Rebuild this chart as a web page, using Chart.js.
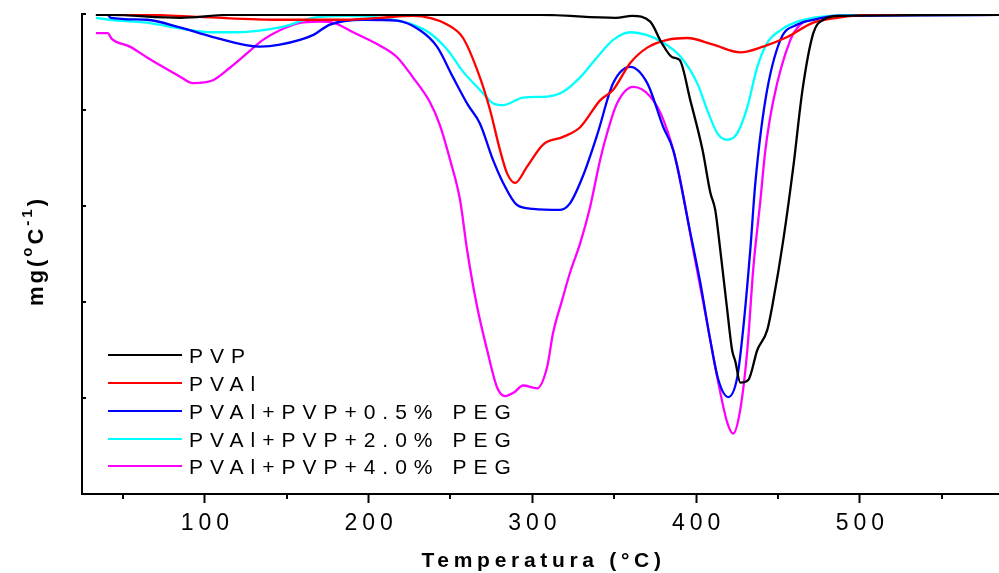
<!DOCTYPE html>
<html>
<head>
<meta charset="utf-8">
<title>DTG</title>
<script src="https://cdn.jsdelivr.net/npm/chart.js@4.4.1/dist/chart.umd.min.js"></script>
<style>
  html, body { margin: 0; padding: 0; background: #fff; }
  #wrap { width: 999px; height: 573px; }
</style>
</head>
<body>
<div id="wrap"><canvas id="dtg" width="999" height="573"></canvas></div>
<script>
// temperatures (°C) and DTG values (arbitrary units, axis has no labels)
const pvpTemp = [33.5, 41, 85, 115, 305, 351, 361, 372, 379, 385.5, 390, 396.5, 404, 408.7, 411.7, 414.8, 419, 422, 424, 427, 432, 437.4, 443.5, 447.2, 453.3, 459.4, 465, 471.6, 477.8, 488, 585];
const pvpVal = [4.99, 4.99, 4.96, 4.99, 4.99, 4.96, 4.98, 4.92, 4.70, 4.55, 4.52, 4.10, 3.58, 3.14, 2.96, 2.54, 1.92, 1.50, 1.38, 1.16, 1.19, 1.50, 1.71, 2.02, 2.65, 3.41, 4.21, 4.80, 4.94, 4.98, 4.99];

const pvalTemp = [33.5, 66, 97, 146, 182.5, 207, 227, 248, 257.7, 268, 274.2, 280.3, 284.6, 289.5, 296.8, 306.6, 318.8, 329.2, 341.4, 349.4, 359.8, 370.2, 382.4, 394.6, 410.5, 427, 441, 455.7, 471.6, 486.3, 506.5, 585];
const pvalVal = [4.99, 4.99, 4.97, 4.94, 4.94, 4.96, 4.98, 4.89, 4.75, 4.34, 4.00, 3.58, 3.34, 3.24, 3.41, 3.64, 3.72, 3.82, 4.10, 4.21, 4.49, 4.65, 4.73, 4.75, 4.68, 4.60, 4.66, 4.76, 4.91, 4.96, 4.99, 4.99];

const peg05Temp = [33.5, 40.7, 42.5, 64.5, 84.7, 105, 133.6, 145.8, 166, 176.4, 196.6, 217.4, 231.4, 241.8, 251.6, 260.8, 268, 276, 282.2, 290.7, 300.5, 317, 323.1, 331.1, 339.6, 349.4, 359.8, 370.2, 380, 386.1, 396.5, 402.6, 408.7, 413.6, 419.7, 425.2, 428.9, 433.1, 436.2, 442.3, 451.5, 461.9, 471.6, 486.3, 585];
const peg05Val = [4.99, 4.99, 4.96, 4.94, 4.86, 4.76, 4.66, 4.68, 4.78, 4.89, 4.94, 4.93, 4.83, 4.66, 4.34, 4.05, 3.86, 3.48, 3.24, 3.01, 2.97, 2.96, 3.03, 3.32, 3.74, 4.28, 4.45, 4.28, 3.82, 3.58, 2.72, 2.20, 1.60, 1.19, 1.01, 1.22, 1.74, 2.54, 3.24, 4.10, 4.73, 4.89, 4.94, 4.98, 4.99];

const peg20Temp = [33.5, 42, 64.5, 84.7, 105, 119.6, 145.8, 166, 186.8, 207, 227, 237.5, 248, 257.7, 268, 276, 282.2, 294.4, 309, 318.8, 329.2, 339.6, 349.4, 359.8, 370.2, 380, 390.3, 400.7, 406.8, 412.9, 419.1, 425.2, 431.3, 437.4, 443.5, 451.5, 461.9, 476, 494, 585];
const peg20Val = [4.96, 4.94, 4.91, 4.85, 4.81, 4.81, 4.86, 4.96, 4.98, 4.96, 4.89, 4.80, 4.63, 4.40, 4.21, 4.07, 4.05, 4.13, 4.14, 4.19, 4.34, 4.55, 4.73, 4.81, 4.78, 4.70, 4.56, 4.28, 4.00, 3.76, 3.69, 3.76, 4.03, 4.45, 4.70, 4.83, 4.92, 4.97, 4.99, 4.99];

const peg40Temp = [33.5, 40.7, 43.2, 54.2, 64.5, 74.3, 84.7, 92.7, 105, 115.3, 125.7, 135.5, 145.8, 156.2, 170.3, 178.2, 190.5, 207, 217.4, 227.1, 237.5, 243.6, 249.8, 255.9, 260.1, 266.3, 272.4, 278.5, 283.4, 289, 294.4, 302.9, 309, 312.7, 318.2, 323.1, 329.2, 335.3, 341.4, 345.7, 351.8, 361.6, 372, 380, 388.5, 398.3, 406.8, 412.9, 419.1, 422.7, 427, 431.3, 435, 439.3, 442.3, 447.2, 457.6, 463.7, 476, 494, 585];
const peg40Val = [4.80, 4.80, 4.74, 4.66, 4.55, 4.45, 4.35, 4.28, 4.31, 4.44, 4.59, 4.73, 4.83, 4.90, 4.92, 4.91, 4.81, 4.67, 4.55, 4.34, 4.08, 3.84, 3.48, 3.06, 2.55, 1.95, 1.50, 1.11, 1.02, 1.06, 1.13, 1.10, 1.32, 1.68, 2.02, 2.31, 2.61, 2.99, 3.48, 3.76, 4.07, 4.24, 4.14, 3.90, 3.42, 2.54, 1.78, 1.22, 0.74, 0.63, 0.88, 1.50, 2.36, 3.06, 3.58, 4.10, 4.73, 4.89, 4.96, 4.99, 4.99];

const seriesNames = ['PVP', 'PVAl', 'PVAl+PVP+0.5% PEG', 'PVAl+PVP+2.0% PEG', 'PVAl+PVP+4.0% PEG'];
const seriesColors = ['#000000', '#ff0000', '#0000ff', '#00ffff', '#ff00ff'];
const xMajor = [100, 200, 300, 400, 500];
const xMinor = [50, 150, 250, 350, 450, 550];
const yTicks = [0, 1, 2, 3, 4, 5];

const temps = [pvpTemp, pvalTemp, peg05Temp, peg20Temp, peg40Temp];
const vals = [pvpVal, pvalVal, peg05Val, peg20Val, peg40Val];

const datasets = seriesNames.map((name, k) => ({
  label: name,
  data: temps[k].map((t, i) => ({ x: t, y: vals[k][i] })),
  borderColor: seriesColors[k],
  borderWidth: 2.3,
  pointRadius: 0,
  fill: false,
  cubicInterpolationMode: 'monotone'
}));

const FONT = '"Liberation Sans", Arial, sans-serif';

// axis labels, titles, minor ticks and the legend box
const decor = {
  id: 'decor',
  afterDraw(chart) {
    const ctx = chart.ctx;
    const xs = chart.scales.x, ys = chart.scales.y;
    const area = chart.chartArea;
    ctx.save();
    ctx.strokeStyle = '#000';
    ctx.lineWidth = 2;
    xMinor.forEach(v => {
      const px = Math.round(xs.getPixelForValue(v));
      ctx.beginPath();
      ctx.moveTo(px, area.bottom);
      ctx.lineTo(px, area.bottom + 5);
      ctx.stroke();
    });
    yTicks.forEach(v => {
      const py = Math.round(ys.getPixelForValue(v));
      ctx.beginPath();
      ctx.moveTo(area.left, py);
      ctx.lineTo(area.left + 4, py);
      ctx.stroke();
    });

    ctx.fillStyle = '#000';
    ctx.textBaseline = 'alphabetic';
    ctx.textAlign = 'center';
    ctx.font = '23px ' + FONT;
    ctx.letterSpacing = '5px';
    xMajor.forEach(v => ctx.fillText(String(v), xs.getPixelForValue(v) + 2.5, 530));

    ctx.font = 'bold 21px ' + FONT;
    ctx.letterSpacing = '4.7px';
    ctx.fillText('Temperatura (°C)', (area.left + area.right) / 2 + 3, 567);

    // y title with superscripts
    const parts = [
      ['mg(', 'bold 22px ', 0],
      ['o', 'bold 15px ', -11],
      ['C', 'bold 22px ', 0],
      ['-1', 'bold 15px ', -11],
      [')', 'bold 22px ', 0]
    ];
    ctx.letterSpacing = '3px';
    ctx.textAlign = 'left';
    let total = 0;
    parts.forEach(p => { ctx.font = p[1] + FONT; total += ctx.measureText(p[0]).width; });
    ctx.translate(43, 251);
    ctx.rotate(-Math.PI / 2);
    let cx = -total / 2;
    parts.forEach(p => {
      ctx.font = p[1] + FONT;
      ctx.fillText(p[0], cx, p[2]);
      cx += ctx.measureText(p[0]).width;
    });
    ctx.restore();

    // legend
    ctx.save();
    ctx.font = '21px ' + FONT;
    ctx.letterSpacing = '7px';
    ctx.textAlign = 'left';
    ctx.textBaseline = 'alphabetic';
    const rowY = [355, 383, 411, 439, 466];
    chart.data.datasets.forEach((ds, i) => {
      ctx.strokeStyle = ds.borderColor;
      ctx.lineWidth = 2;
      ctx.beginPath();
      ctx.moveTo(108, rowY[i]);
      ctx.lineTo(182, rowY[i]);
      ctx.stroke();
      ctx.fillStyle = '#000';
      ctx.fillText(ds.label, 189, rowY[i] + 8);
    });
    ctx.restore();
  }
};

new Chart(document.getElementById('dtg').getContext('2d'), {
  type: 'line',
  data: { datasets: datasets },
  plugins: [decor],
  options: {
    responsive: false,
    animation: false,
    devicePixelRatio: 1,
    layout: { padding: { top: 14, right: 0, bottom: 0, left: 0 } },
    plugins: {
      legend: { display: false },
      tooltip: { enabled: false }
    },
    scales: {
      x: {
        type: 'linear',
        min: 25,
        max: 585,
        afterBuildTicks: s => { s.ticks = xMajor.map(v => ({ value: v })); },
        afterFit: s => { s.height = 79; },
        ticks: { display: false },
        grid: {
          display: true,
          drawOnChartArea: false,
          drawTicks: true,
          tickLength: 9,
          tickWidth: 2,
          tickColor: '#000'
        },
        border: { display: true, color: '#000', width: 2 }
      },
      y: {
        type: 'linear',
        min: 0,
        max: 5,
        afterFit: s => { s.width = 82; },
        ticks: { display: false, stepSize: 1 },
        grid: { display: false },
        border: { display: true, color: '#000', width: 2 }
      }
    }
  }
});
</script>
</body>
</html>
